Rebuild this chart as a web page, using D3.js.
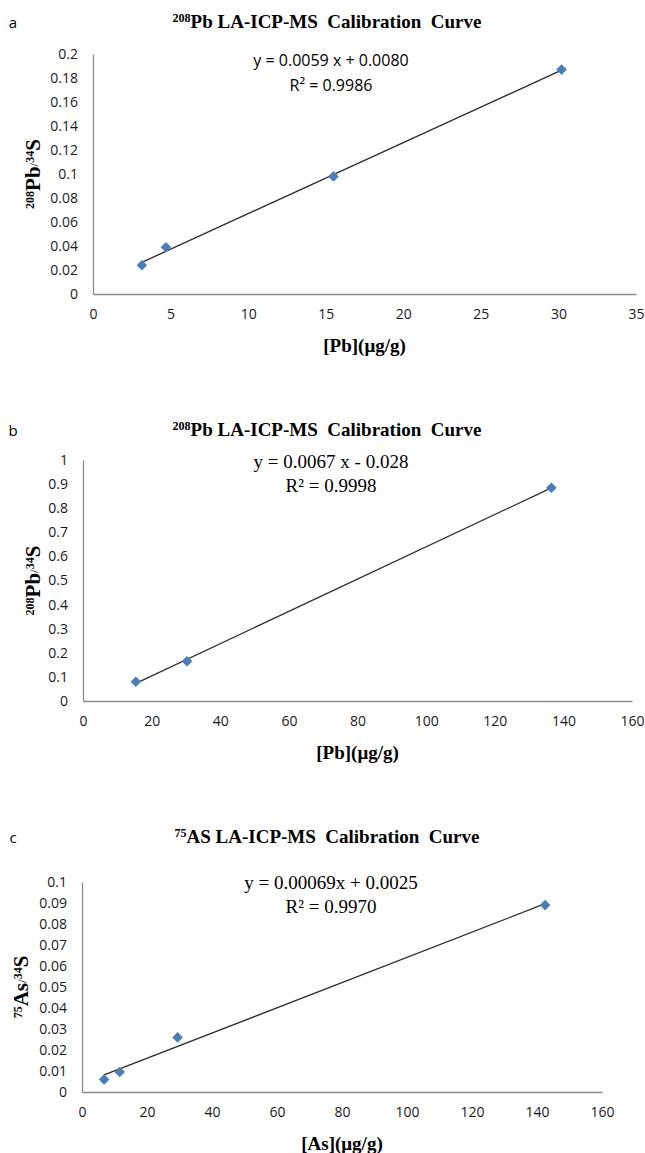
<!DOCTYPE html>
<html>
<head>
<meta charset="utf-8">
<script src="https://cdn.jsdelivr.net/npm/d3@7/dist/d3.min.js"></script>
<style>
body { margin: 0; background: #fff; }
</style>
</head>
<body>
<svg width="645" height="1153"></svg>
<script>
// --- data ---
// a: 208Pb/34S vs [Pb]
var pbA_conc = [3.15, 4.7, 15.5, 30.2]
var pbA_ratio = [0.024, 0.039, 0.098, 0.187]
var pbA_xTicks = [0, 5, 10, 15, 20, 25, 30, 35]
var pbA_yTicks = [0, 0.02, 0.04, 0.06, 0.08, 0.1, 0.12, 0.14, 0.16, 0.18, 0.2]
var pbA_eq = ['y = 0.0059 x + 0.0080', 'R² = 0.9986']

// b: 208Pb/34S vs [Pb]
var pbB_conc = [15.4, 30.3, 136.5]
var pbB_ratio = [0.08, 0.165, 0.885]
var pbB_xTicks = [0, 20, 40, 60, 80, 100, 120, 140, 160]
var pbB_yTicks = [0, 0.1, 0.2, 0.3, 0.4, 0.5, 0.6, 0.7, 0.8, 0.9, 1]
var pbB_eq = ['y = 0.0067 x - 0.028', 'R² = 0.9998']

// c: 75As/34S vs [As]
var as_conc = [6.8, 11.6, 29.4, 142.5]
var as_ratio = [0.006, 0.0095, 0.026, 0.089]
var as_xTicks = [0, 20, 40, 60, 80, 100, 120, 140, 160]
var as_yTicks = [0, 0.01, 0.02, 0.03, 0.04, 0.05, 0.06, 0.07, 0.08, 0.09, 0.1]
var as_eq = ['y = 0.00069x + 0.0025', 'R² = 0.9970']

var svg = d3.select('svg')
var serif = '"Liberation Serif", "Times New Roman", serif'
var sans = '"Open Sans", "Liberation Sans", sans-serif'

// least squares line through the points (the Excel trendline)
function fit(xs, ys) {
    var mx = d3.mean(xs), my = d3.mean(ys)
    var sxy = d3.sum(xs, (d, i) => (d - mx) * (ys[i] - my))
    var sxx = d3.sum(xs, d => (d - mx) * (d - mx))
    var m = sxy / sxx
    return v => m * v + (my - m * mx)
}

function fmt(v) { return String(+v.toFixed(4)) }

function panel(p) {
    var g = svg.append('g')

    var x = d3.scaleLinear().domain(d3.extent(p.xTicks)).range([p.left, p.right])
    var y = d3.scaleLinear().domain(d3.extent(p.yTicks)).range([p.bottom, p.top])

    // panel letter
    g.append('text')
        .text(p.letter)
        .attr('x', 13)
        .attr('y', p.titleY)
        .attr('text-anchor', 'middle')
        .style('font-family', sans)
        .style('font-size', '15px')

    // title with leading superscript
    var t = g.append('text')
        .attr('x', 327)
        .attr('y', p.titleY)
        .attr('text-anchor', 'middle')
        .style('font-family', serif)
        .style('font-weight', 'bold')
        .style('font-size', '19px')
    t.append('tspan').text(p.titleSup).attr('dy', -6).style('font-size', '12px')
    t.append('tspan').text(p.titleMain).attr('dy', 6).attr('xml:space', 'preserve')

    // axes
    g.append('g')
        .attr('transform', 'translate(0,' + p.bottom + ')')
        .call(d3.axisBottom(x).tickValues(p.xTicks).tickSize(0).tickPadding(15).tickFormat(fmt))
    g.append('g')
        .attr('transform', 'translate(' + p.left + ',0)')
        .call(d3.axisLeft(y).tickValues(p.yTicks).tickSize(0).tickPadding(15).tickFormat(fmt))
    g.selectAll('.domain').attr('stroke', '#8c8c8c').attr('stroke-width', 1.3)
    g.selectAll('.tick text')
        .attr('fill', '#1a1a1a')
        .style('font-family', sans)
        .style('font-size', '14px')

    // trendline over the data range
    var line = fit(p.xs, p.ys)
    var ext = d3.extent(p.xs)
    g.append('line')
        .attr('x1', x(ext[0]))
        .attr('y1', y(line(ext[0])))
        .attr('x2', x(ext[1]))
        .attr('y2', y(line(ext[1])))
        .attr('stroke', '#2b2b2b')
        .attr('stroke-width', 1.3)

    // diamond markers
    g.selectAll('path.pt')
        .data(p.xs)
        .enter()
        .append('path')
        .attr('class', 'pt')
        .attr('d', d3.symbol(d3.symbolSquare, 56))
        .attr('transform', (d, i) => 'translate(' + x(d) + ',' + y(p.ys[i]) + ') rotate(45)')
        .attr('fill', '#4a7ebb')

    // equation
    g.selectAll('text.eq')
        .data(p.eq)
        .enter()
        .append('text')
        .attr('class', 'eq')
        .text(d => d)
        .attr('x', 331)
        .attr('y', (d, i) => p.eqY[i])
        .attr('text-anchor', 'middle')
        .style('font-family', p.eqFont)
        .style('font-size', p.eqSize)

    // x title
    g.append('text')
        .text(p.xTitle)
        .attr('x', (p.left + p.right) / 2)
        .attr('y', p.bottom + 58)
        .attr('text-anchor', 'middle')
        .style('font-family', serif)
        .style('font-weight', 'bold')
        .style('font-size', '19px')

    // y title, rotated
    var yt = g.append('text')
        .attr('transform', 'translate(' + p.yTitleX + ',' + (p.top + p.bottom) / 2 + ') rotate(-90)')
        .attr('text-anchor', 'middle')
        .style('font-family', serif)
        .style('font-weight', 'bold')
        .style('font-size', '21px')
    yt.append('tspan').text(p.yTitle[0]).attr('dy', -6).style('font-size', '12px')
    yt.append('tspan').text(p.yTitle[1]).attr('dy', 6)
    yt.append('tspan').text('/').attr('dy', -2).style('font-size', '13px').style('font-weight', 'normal')
    yt.append('tspan').text('34').attr('dy', -4).style('font-size', '12px')
    yt.append('tspan').text('S').attr('dy', 6)
}

panel({
    letter: 'a', titleSup: '208', titleMain: 'Pb LA-ICP-MS  Calibration  Curve', titleY: 28,
    xs: pbA_conc, ys: pbA_ratio, xTicks: pbA_xTicks, yTicks: pbA_yTicks,
    left: 93, right: 636, top: 54, bottom: 294,
    eq: pbA_eq, eqY: [66, 91], eqFont: sans, eqSize: '16px',
    xTitle: '[Pb](μg/g)', yTitle: ['208', 'Pb'], yTitleX: 40
})

panel({
    letter: 'b', titleSup: '208', titleMain: 'Pb LA-ICP-MS  Calibration  Curve', titleY: 436,
    xs: pbB_conc, ys: pbB_ratio, xTicks: pbB_xTicks, yTicks: pbB_yTicks,
    left: 83, right: 632, top: 460, bottom: 701,
    eq: pbB_eq, eqY: [468, 492], eqFont: serif, eqSize: '19px',
    xTitle: '[Pb](μg/g)', yTitle: ['208', 'Pb'], yTitleX: 40
})

panel({
    letter: 'c', titleSup: '75', titleMain: 'AS LA-ICP-MS  Calibration  Curve', titleY: 843,
    xs: as_conc, ys: as_ratio, xTicks: as_xTicks, yTicks: as_yTicks,
    left: 82, right: 602, top: 882, bottom: 1092,
    eq: as_eq, eqY: [889, 913], eqFont: serif, eqSize: '19px',
    xTitle: '[As](μg/g)', yTitle: ['75', 'As'], yTitleX: 28
})
</script>
</body>
</html>
